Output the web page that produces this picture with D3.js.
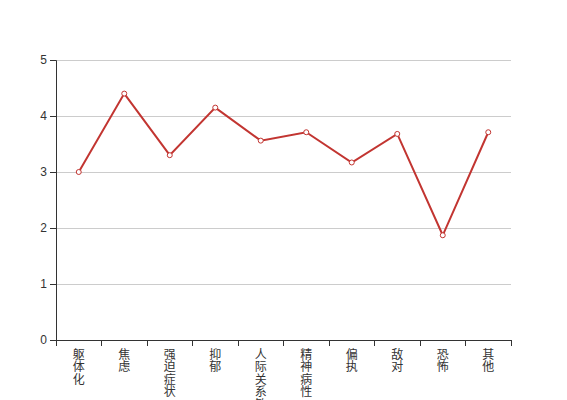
<!DOCTYPE html>
<html>
<head>
<meta charset="utf-8">
<script src="https://cdn.jsdelivr.net/npm/d3@7"></script>
<style>
  body { margin: 0; background: #fff; }
  svg { font-family: "Liberation Sans", "Noto Sans CJK SC", sans-serif; }
</style>
</head>
<body>
<svg id="chart" width="567" height="400"></svg>
<script>
(function() {
	'use strict';

	const categories = ['躯体化', '焦虑', '强迫症状', '抑郁', '人际关系敏感', '精神病性', '偏执', '敌对', '恐怖', '其他'];
	const values = [3.0, 4.40, 3.30, 4.15, 3.56, 3.71, 3.17, 3.68, 1.87, 3.71];
	const yTicks = [0, 1, 2, 3, 4, 5];

	const svg = d3.select('#chart');
	const margin = { top: 60, right: 56, bottom: 60, left: 56 };
	const width = +svg.attr('width') - margin.left - margin.right;
	const height = +svg.attr('height') - margin.top - margin.bottom;

	const g = svg.append('g')
		.attr('transform', 'translate(' + margin.left + ',' + margin.top + ')');

	const x = d3.scaleBand()
		.domain(categories)
		.range([0, width]);

	const y = d3.scaleLinear()
		.domain([0, 5])
		.range([height, 0]);

	// grid lines
	g.append('g')
		.selectAll('line')
		.data(yTicks.slice(1))
		.enter().append('line')
		.attr('x1', 0)
		.attr('x2', width)
		.attr('y1', function(d) { return y(d); })
		.attr('y2', function(d) { return y(d); })
		.attr('stroke', '#ccc')
		.attr('stroke-width', 1)
		.attr('shape-rendering', 'crispEdges');

	// y axis
	const yAxis = g.append('g')
		.call(d3.axisLeft(y).tickValues(yTicks).tickFormat(d3.format('d')));
	yAxis.selectAll('text').attr('fill', '#333').attr('font-size', 12);
	yAxis.selectAll('line, path').attr('stroke', '#333');

	// x axis: ticks at band boundaries
	const xAxis = g.append('g')
		.attr('transform', 'translate(0,' + height + ')');
	xAxis.append('line')
		.attr('x1', 0).attr('x2', width)
		.attr('stroke', '#333')
		.attr('shape-rendering', 'crispEdges');
	xAxis.selectAll('.tick')
		.data(categories.concat(['__end']))
		.enter().append('line')
		.attr('class', 'tick')
		.attr('x1', function(d, i) { return i < categories.length ? x(d) : width; })
		.attr('x2', function(d, i) { return i < categories.length ? x(d) : width; })
		.attr('y1', 0).attr('y2', 6)
		.attr('stroke', '#333')
		.attr('shape-rendering', 'crispEdges');

	xAxis.selectAll('text')
		.data(categories)
		.enter().append('text')
		.attr('fill', '#333')
		.attr('font-size', 12)
		.attr('font-family', '"Noto Sans CJK SC", sans-serif')
		.attr('text-anchor', 'middle')
		.attr('transform', function(d) { return 'translate(' + (x(d) + x.bandwidth() / 2) + ',9)'; })
		.selectAll('tspan')
		.data(function(d) { return Array.from(d); })
		.enter().append('tspan')
		.attr('x', 0)
		.attr('dy', function(d, i) { return i === 0 ? '0.8em' : '1.05em'; })
		.text(function(d) { return d; });

	const cx = function(d, i) { return x(categories[i]) + x.bandwidth() / 2; };

	const line = d3.line()
		.x(cx)
		.y(function(d) { return y(d); });

	g.append('path')
		.datum(values)
		.attr('fill', 'none')
		.attr('stroke', '#c23531')
		.attr('stroke-width', 2)
		.attr('d', line);

	g.selectAll('.dot')
		.data(values)
		.enter().append('circle')
		.attr('class', 'dot')
		.attr('cx', cx)
		.attr('cy', function(d) { return y(d); })
		.attr('r', 2.5)
		.attr('fill', '#fff')
		.attr('stroke', '#c23531')
		.attr('stroke-width', 1);
})();
</script>
</body>
</html>
